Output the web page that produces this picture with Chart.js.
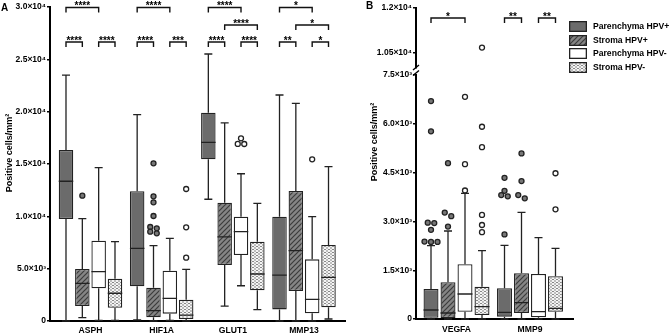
<!DOCTYPE html>
<html><head><meta charset="utf-8">
<script src="https://cdn.jsdelivr.net/npm/chart.js@4.4.1/dist/chart.umd.min.js"></script>
<style>
html,body{margin:0;padding:0;background:#fff}
body{width:669px;height:334px;position:relative;overflow:hidden;font-family:'Liberation Sans',Arial,sans-serif}
canvas{position:absolute}
#cA{left:0;top:0}
#cB{left:360px;top:0}
#cBu{left:360px;top:0}
.panel{position:absolute;font-weight:bold;font-size:10px;line-height:10px;color:#000}
.lrow{position:absolute;left:569px;height:12px;font-weight:bold;font-size:8.6px;line-height:12px;color:#000;white-space:nowrap}
.lrow canvas{position:absolute;left:0;top:1px}
.lrow span{position:absolute;left:24px;top:0}
</style></head><body>
<canvas id="cA" width="360" height="334"></canvas>
<canvas id="cB" width="309" height="334"></canvas>
<canvas id="cBu" width="309" height="80"></canvas>
<div class="panel" style="left:1px;top:3px">A</div>
<div class="panel" style="left:366px;top:1px">B</div>
<div id="legend"></div>
<script>
// ---------- DATA ----------
const seriesNames = ['Parenchyma HPV+','Stroma HPV+','Parenchyma HPV-','Stroma HPV-'];
const categoriesA = ['ASPH','HIF1A','GLUT1','MMP13'];
const categoriesB = ['VEGFA','MMP9'];
const yTicksA = ['0','5.0×10³','1.0×10⁴','1.5×10⁴','2.0×10⁴','2.5×10⁴','3.0×10⁴'];
const yTicksBLow = ['0','1.5×10³','3.0×10³','4.5×10³','6.0×10³','7.5×10³'];
const yTicksBHigh = ['1.05×10⁴','1.2×10⁴'];
const yTitle = 'Positive cells/mm²';

// five-number summaries per category: [min, q1, median, q3, max]
const A_parenchymaPos = [[0,9750,13350,16340,23500],[100,3310,6940,12390,19710],[11630,15450,17070,19900,25510],[0,1110,4390,9970,21590]];
const A_stromaPos     = [[320,1430,3600,4970,9780],[0,350,990,3180,7200],[1430,5350,8030,11300,18920],[0,2870,6720,12420,20800]];
const A_parenchymaNeg = [[60,3120,4710,7670,14650],[50,700,2170,4810,7900],[3370,6300,8530,9970,14070],[0,730,2070,5890,9970]];
const A_stromaNeg     = [[60,1270,2650,4040,7580],[0,190,570,2040,4940],[1080,2930,4490,7580,11240],[190,1310,4170,7260,14740]];

const A_outParenchymaPos = [[],[],[],[]];
const A_outStromaPos     = [[11970],[15060,11910,11340,10030,8980,8850,8530,8380],[],[]];
const A_outParenchymaNeg = [[],[],[17450,16910,16920],[15450]];
const A_outStromaNeg     = [[],[12610,8950,6050],[],[]];

const B_parenchymaPos = [[0,40,277,922,2253],[0,72,205,943,2265]];
const B_stromaPos     = [[0,30,184,1128,2705],[0,184,501,1405,3280]];
const B_parenchymaNeg = [[0,225,768,1681,3864],[0,52,225,1383,2499]];
const B_stromaNeg     = [[0,123,378,993,2100],[0,225,329,1312,2173]];

const B_outParenchymaPos = [[6700,5770,2960,2950,2740,2380,2370,2370],[4340,3940,3810,3770,2600]];
const B_outStromaPos     = [[4790,3270,3160,2840],[5090,4240,3810,3710]];
const B_outParenchymaNeg = [[6830,4760,3950],[]];
const B_outStromaNeg     = [[10680,5910,5280,3200,2890,2670],[4480,3370]];

// significance brackets: [category, fromSeries, toSeries, label, row]
const bracketsA = [[0,0,2,'****',0],[1,0,2,'****',0],[2,0,2,'****',0],[3,0,2,'*',0],
  [2,1,3,'****',1],[3,1,3,'*',1],
  [0,0,1,'****',2],[0,2,3,'****',2],[1,0,1,'****',2],[1,2,3,'***',2],
  [2,0,1,'****',2],[2,2,3,'****',2],[3,0,1,'**',2],[3,2,3,'*',2]];
const bracketsB = [[0,0,2,'*',0],[1,0,1,'**',0],[1,2,3,'**',0]];

// ---------- STYLE ----------
const FONT = "'Liberation Sans', Arial, sans-serif";
Chart.defaults.font.family = FONT;
Chart.defaults.font.weight = 'bold';
Chart.defaults.color = '#000';
const INK = '#222';

function hatchPattern(){
  const c=document.createElement('canvas'); c.width=5; c.height=5;
  const g=c.getContext('2d');
  g.fillStyle='#858585'; g.fillRect(0,0,5,5);
  g.strokeStyle='#3c3c3c'; g.lineWidth=1.2; g.beginPath();
  g.moveTo(-1,6); g.lineTo(6,-1); g.moveTo(-1,1); g.lineTo(1,-1); g.moveTo(4,6); g.lineTo(6,4);
  g.stroke();
  return g.createPattern(c,'repeat');
}
function dotPattern(){
  const c=document.createElement('canvas'); c.width=4; c.height=3;
  const g=c.getContext('2d');
  g.fillStyle='#f4f4f4'; g.fillRect(0,0,4,3);
  g.fillStyle='#888'; g.fillRect(0,0,2,1); g.fillRect(2,1.5,2,1);
  return g.createPattern(c,'repeat');
}
const fills = ['#6b6b6b', hatchPattern(), '#ffffff', dotPattern()];
const outFill = ['#777','#777','#fff','#fff'];

// ---------- PLUGIN: whiskers, medians, outliers, brackets, titles ----------
const boxPlugin = {
  id: 'boxext',
  afterDatasetsDraw(chart, args, o) {
    const ctx = chart.ctx, ys = chart.scales.y;
    ctx.save();
    chart.data.datasets.forEach((ds, di) => {
      const meta = chart.getDatasetMeta(di);
      meta.data.forEach((bar, j) => {
        const x = bar.x, w = bar.width;
        const s = ds.stats[j];
        if (o.whiskers) {
          ctx.strokeStyle = INK; ctx.lineWidth = 1.3; ctx.beginPath();
          const pMin = ys.getPixelForValue(s[0]), pQ1 = ys.getPixelForValue(s[1]);
          const pMed = ys.getPixelForValue(s[2]), pQ3 = ys.getPixelForValue(s[3]);
          const pMax = ys.getPixelForValue(s[4]);
          ctx.moveTo(x, pQ3); ctx.lineTo(x, pMax);
          ctx.moveTo(x-4, pMax); ctx.lineTo(x+4, pMax);
          ctx.moveTo(x, pQ1); ctx.lineTo(x, pMin);
          ctx.moveTo(x-4, pMin); ctx.lineTo(x+4, pMin);
          ctx.moveTo(x-w/2, pMed); ctx.lineTo(x+w/2, pMed);
          ctx.stroke();
        }
        // outliers, spread horizontally when overlapping
        const vals = (ds.outliers[j] || []).filter(v => v >= ys.min && v <= ys.max).slice().sort((a,b)=>b-a);
        const groups = [];
        vals.forEach(v => {
          const py = ys.getPixelForValue(v);
          const g = groups[groups.length-1];
          if (g && Math.abs(py - g[0]) < 4) g.push(py); else groups.push([py]);
        });
        groups.forEach(g => g.forEach((py, k) => {
          const px = x + (k - (g.length-1)/2) * 6.5;
          ctx.beginPath(); ctx.arc(px, py, 2.5, 0, Math.PI*2);
          ctx.fillStyle = outFill[di]; ctx.fill();
          ctx.lineWidth = 1.3; ctx.strokeStyle = INK; ctx.stroke();
        }));
      });
    });
    ctx.restore();
  },
  afterDraw(chart, args, o) {
    const ctx = chart.ctx, area = chart.chartArea;
    ctx.save();
    (o.brackets || []).forEach(b => {
      const x1 = chart.getDatasetMeta(b[1]).data[b[0]].x;
      const x2 = chart.getDatasetMeta(b[2]).data[b[0]].x;
      const y = area.top + o.rows[b[4]];
      ctx.strokeStyle = '#111'; ctx.lineWidth = 1.4; ctx.beginPath();
      ctx.moveTo(x1, y+5); ctx.lineTo(x1, y); ctx.lineTo(x2, y); ctx.lineTo(x2, y+5); ctx.stroke();
      ctx.fillStyle = '#000'; ctx.font = 'bold 10px ' + FONT;
      ctx.textAlign = 'center'; ctx.textBaseline = 'alphabetic';
      ctx.fillText(b[3], (x1+x2)/2, y + 1.5);
    });
    if (o.title) {
      ctx.translate(o.title.x, o.title.y); ctx.rotate(-Math.PI/2);
      ctx.font = 'bold 9px ' + FONT; ctx.fillStyle = '#000';
      ctx.textAlign = 'center'; ctx.textBaseline = 'middle';
      ctx.fillText(yTitle, 0, 0);
      ctx.setTransform(1,0,0,1,0,0);
    }
    if (o.breakMark) {
      const x = area.left;
      ctx.strokeStyle = '#000'; ctx.lineWidth = 1.4; ctx.beginPath();
      ctx.moveTo(x-3, 70); ctx.lineTo(x+3, 65);
      ctx.moveTo(x-3, 75.5); ctx.lineTo(x+3, 70.5);
      ctx.stroke();
    }
    ctx.restore();
  }
};

function makeDatasets(seriesStats, seriesOut, visible, cp, bp) {
  return seriesStats.map((st, i) => ({
    label: seriesNames[i],
    data: st.map(s => [s[1], s[3]]),
    stats: st,
    outliers: seriesOut[i],
    backgroundColor: visible ? fills[i] : 'rgba(0,0,0,0)',
    borderColor: visible ? INK : 'rgba(0,0,0,0)',
    borderWidth: visible ? 1.3 : 0,
    borderSkipped: false,
    categoryPercentage: cp,
    barPercentage: bp
  }));
}

function xScale(start, range, show, axisHeight, tp) {
  return {
    type: 'category',
    display: show,
    afterBuildTicks: s => { s._startValue = start; s._valueRange = range; },
    afterFit: s => { s.height = axisHeight; },
    grid: { display: false, drawTicks: false },
    border: { display: true, color: '#000', width: 2 },
    ticks: { font: { size: 8.6, weight: 'bold' }, padding: tp, maxRotation: 0, autoSkip: false }
  };
}
function yScale(min, max, labels, width, stepOrTicks) {
  const sc = {
    type: 'linear', min, max,
    afterFit: s => { s.width = width; },
    grid: { drawOnChartArea: false, drawTicks: true, tickLength: 3, color: '#000', lineWidth: 1.4 },
    border: { display: true, color: '#000', width: 2 },
    ticks: { font: { size: 8.5, weight: 'bold' }, padding: 1 }
  };
  if (Array.isArray(stepOrTicks)) {
    sc.afterBuildTicks = s => { s.ticks = stepOrTicks.map(v => ({ value: v })); };
    sc.ticks.callback = v => labels[stepOrTicks.indexOf(v)];
  } else {
    sc.ticks.stepSize = stepOrTicks;
    sc.ticks.callback = v => labels[Math.round(v / stepOrTicks)];
  }
  return sc;
}
const base = { responsive: false, animation: false, events: [] };

// ---------- PANEL A ----------
new Chart(document.getElementById('cA'), {
  type: 'bar',
  data: { labels: categoriesA,
    datasets: makeDatasets([A_parenchymaPos, A_stromaPos, A_parenchymaNeg, A_stromaNeg],
      [A_outParenchymaPos, A_outStromaPos, A_outParenchymaNeg, A_outStromaNeg], true, 0.918, 0.888) },
  options: Object.assign({}, base, {
    layout: { padding: { left: 0, right: 15, top: 7, bottom: 0 } },
    scales: {
      x: xScale(-0.569, 4.145, true, 13, 4),
      y: yScale(0, 30000, yTicksA, 50, 5000)
    },
    plugins: { legend: { display: false }, tooltip: { enabled: false },
      boxext: { whiskers: true, brackets: bracketsA, rows: [0.5, 18, 35], title: { x: 10, y: 153 } } }
  }),
  plugins: [boxPlugin]
});

// ---------- PANEL B (lower segment) ----------
new Chart(document.getElementById('cB'), {
  type: 'bar',
  data: { labels: categoriesB,
    datasets: makeDatasets([B_parenchymaPos, B_stromaPos, B_parenchymaNeg, B_stromaNeg],
      [B_outParenchymaPos, B_outStromaPos, B_outParenchymaNeg, B_outStromaNeg], true, 0.925, 0.88) },
  options: Object.assign({}, base, {
    layout: { padding: { left: 0, right: 96, top: 75, bottom: 0 } },
    scales: {
      x: xScale(-0.551, 2.136, true, 15, 5),
      y: yScale(0, 7500, yTicksBLow, 56, 1500)
    },
    plugins: { legend: { display: false }, tooltip: { enabled: false },
      boxext: { whiskers: true, title: { x: 15, y: 142 }, breakMark: true } }
  }),
  plugins: [boxPlugin]
});

// ---------- PANEL B (upper segment, after axis break) ----------
new Chart(document.getElementById('cBu'), {
  type: 'bar',
  data: { labels: categoriesB,
    datasets: makeDatasets([B_parenchymaPos, B_stromaPos, B_parenchymaNeg, B_stromaNeg],
      [B_outParenchymaPos, B_outStromaPos, B_outParenchymaNeg, B_outStromaNeg], false, 0.925, 0.88) },
  options: Object.assign({}, base, {
    layout: { padding: { left: 0, right: 96, top: 8, bottom: 12 } },
    scales: {
      x: xScale(-0.551, 2.136, false, 0, 0),
      y: yScale(10000, 12000, yTicksBHigh, 56, [10500, 12000])
    },
    plugins: { legend: { display: false }, tooltip: { enabled: false },
      boxext: { whiskers: false, brackets: bracketsB, rows: [10] } }
  }),
  plugins: [boxPlugin]
});

// ---------- LEGEND ----------
const legendTops = [20, 33.5, 47, 60.5];
const lg = document.getElementById('legend');
seriesNames.forEach((n, i) => {
  const row = document.createElement('div');
  row.className = 'lrow'; row.style.top = legendTops[i] + 'px';
  const c = document.createElement('canvas'); c.width = 18; c.height = 11;
  const g = c.getContext('2d');
  g.fillStyle = fills[i]; g.fillRect(0, 0, 18, 11);
  g.strokeStyle = INK; g.lineWidth = 1.3; g.strokeRect(0.65, 0.65, 16.7, 9.7);
  const sp = document.createElement('span'); sp.textContent = n;
  row.appendChild(c); row.appendChild(sp); lg.appendChild(row);
});
</script>
</body></html>
